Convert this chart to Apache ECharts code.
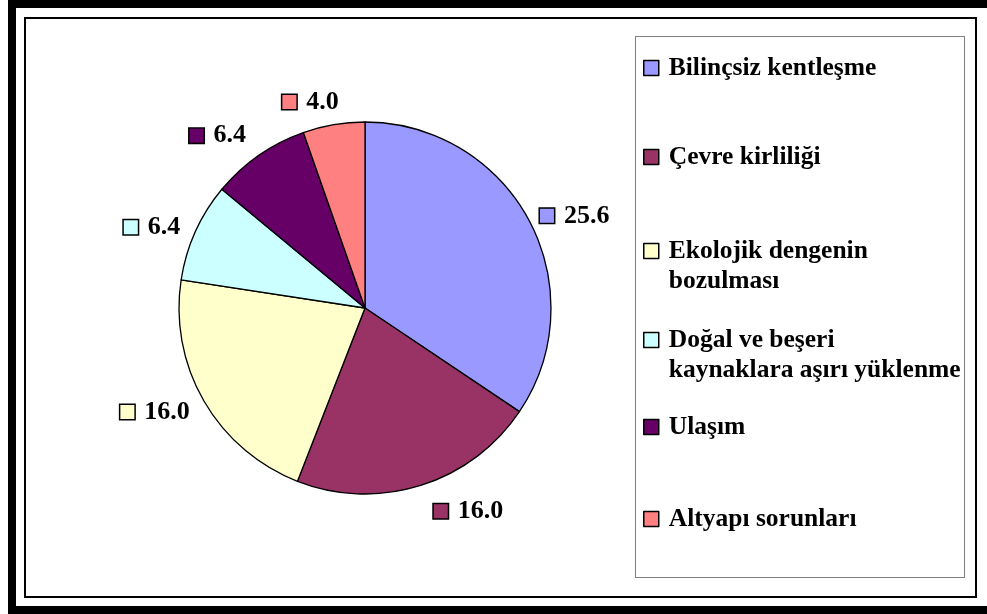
<!DOCTYPE html>
<html>
<head>
<meta charset="utf-8">
<script src="https://cdn.jsdelivr.net/npm/echarts@6/dist/echarts.min.js"></script>
<style>
html,body{margin:0;padding:0;background:#fff;width:987px;height:614px;overflow:hidden;}
#outer{position:absolute;left:8px;top:0;width:1000px;height:598px;border-left:8px solid #000;border-top:8px solid #000;border-bottom:8px solid #000;}
#inner{position:absolute;left:24px;top:17px;width:953px;height:581px;border:2px solid #000;box-sizing:border-box;}
#legbox{position:absolute;left:635px;top:36px;width:330px;height:542px;border:1px solid #808080;box-sizing:border-box;}
#chart{position:absolute;left:0;top:0;width:987px;height:614px;}
</style>
</head>
<body>
<div id="outer"></div>
<div id="inner"></div>
<div id="legbox"></div>
<div id="chart"></div>
<script>
// ---- data ----
const categories = ['Bilinçsiz kentleşme', 'Çevre kirliliği', 'Ekolojik dengenin\nbozulması', 'Doğal ve beşeri\nkaynaklara aşırı yüklenme', 'Ulaşım', 'Altyapı sorunları'];
const values = [25.6, 16.0, 16.0, 6.4, 6.4, 4.0];
const colors = ['#9999FF', '#993366', '#FFFFCC', '#CCFFFF', '#660066', '#FF8080'];

// ---- layout (not data) ----
const FONT = 'Liberation Serif';
const legendCenters = [68, 157, 251, 340, 427, 519];
const LH = 30;
const ICON = 15;
const labelLen = [10, 27, 22, 11, 24, 23];
const labelLen2 = [-3, 0, -10, 0, -6, -14];

const chart = echarts.init(document.getElementById('chart'), null, {renderer: 'canvas'});

const legends = categories.map((name, i) => {
  const lines = name.split('\n').length;
  const h = ICON + LH * (lines - 1);
  // square at top of the icon box so it lines up with the first text line
  const icon = 'path://M0,0L' + ICON + ',0L' + ICON + ',' + ICON + 'L0,' + ICON + 'ZM0,' + h;
  return {
    show: true,
    orient: 'vertical',
    left: 643,
    top: legendCenters[i] - LH / 2,
    padding: 0,
    selectedMode: false,
    icon: icon,
    itemWidth: ICON,
    itemHeight: h,
    itemStyle: {borderColor: '#000', borderWidth: 1.5},
    textStyle: {
      fontFamily: FONT, fontWeight: 'bold', fontSize: 25.5, color: '#000', lineHeight: LH,
      padding: [0, 0, 0, 5]
    },
    data: [name]
  };
});

chart.setOption({
  animation: false,
  color: colors,
  legend: legends,
  series: [{
    type: 'pie',
    center: [365, 308],
    radius: 186,
    startAngle: 90,
    clockwise: true,
    avoidLabelOverlap: false,
    itemStyle: {borderColor: '#000', borderWidth: 1.3},
    label: {
      show: true,
      position: 'outside',
      distanceToLabelLine: 5,
      formatter: p => '{m|}{v|' + p.value.toFixed(1) + '}',
      rich: {
        m: {width: 14, height: 14, borderColor: '#000', borderWidth: 1.5, verticalAlign: 'middle'},
        v: {fontFamily: FONT, fontWeight: 'bold', fontSize: 26, color: '#000', padding: [0, 0, 0, 10], verticalAlign: 'middle'}
      }
    },
    labelLine: {show: false, length: 16, length2: 0},
    emphasis: {disabled: true},
    data: categories.map((n, i) => ({
      name: n,
      value: values[i],
      itemStyle: {color: colors[i]},
      label: {rich: {m: {backgroundColor: colors[i]}}},
      labelLine: {show: false, length: labelLen[i], length2: labelLen2[i]}
    }))
  }]
});
</script>
</body>
</html>
